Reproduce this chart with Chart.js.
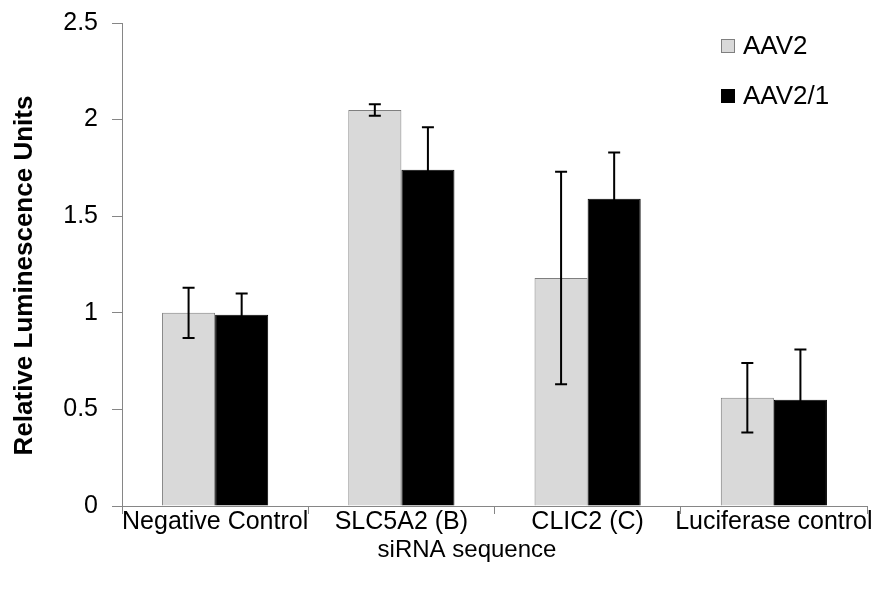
<!DOCTYPE html>
<html>
<head>
<meta charset="utf-8">
<script src="https://cdn.jsdelivr.net/npm/chart.js@4"></script>
<style>
  body { margin: 0; background: #fff; }
  #wrap { width: 880px; height: 592px; }
</style>
</head>
<body>
<div id="wrap"><canvas id="barChart"></canvas></div>
<script>
// Datos del ensayo
const categorias = ["Negative Control", "SLC5A2 (B)", "CLIC2 (C)", "Luciferase control"];
const aav2 = [1.00, 2.05, 1.18, 0.56];
const aav2Error = [0.13, 0.03, 0.55, 0.18];
const aav21 = [0.99, 1.74, 1.59, 0.55];
const aav21Error = [0.11, 0.22, 0.24, 0.26];
const yMin = 0, yMax = 2.5, yPaso = 0.5;

const fuente = "'Liberation Sans', Arial, sans-serif";
const gris = "#868686";

// barras de error (media +- error)
const errorBars = {
    id: "errorBars",
    afterDatasetsDraw(chart) {
        const ctx = chart.ctx;
        const y = chart.scales.y;
        chart.data.datasets.forEach((ds, i) => {
            chart.getDatasetMeta(i).data.forEach((bar, j) => {
                const v = ds.data[j], e = ds.errores[j];
                const top = y.getPixelForValue(v + e);
                const bottom = y.getPixelForValue(v - e);
                ctx.save();
                ctx.strokeStyle = "#000";
                ctx.lineWidth = 2;
                ctx.beginPath();
                ctx.moveTo(bar.x, top); ctx.lineTo(bar.x, bottom);
                ctx.moveTo(bar.x - 6, top); ctx.lineTo(bar.x + 6, top);
                ctx.moveTo(bar.x - 6, bottom); ctx.lineTo(bar.x + 6, bottom);
                ctx.stroke();
                ctx.restore();
            });
        });
    }
};

// leyenda y títulos de ejes
const extras = {
    id: "extras",
    afterDraw(chart) {
        const ctx = chart.ctx;
        const area = chart.chartArea;
        ctx.save();
        ctx.fillStyle = "#000";
        ctx.textBaseline = "middle";

        // leyenda
        ctx.font = "26px " + fuente;
        chart.data.datasets.forEach((ds, i) => {
            const lx = area.right - 146;
            const ly = 46 + i * 50;
            ctx.fillStyle = ds.backgroundColor;
            ctx.fillRect(lx, ly - 7, 14, 14);
            ctx.strokeStyle = ds.borderColor;
            ctx.lineWidth = 1;
            ctx.strokeRect(lx + 0.5, ly - 6.5, 13, 13);
            ctx.fillStyle = "#000";
            ctx.textAlign = "left";
            ctx.fillText(ds.label, lx + 22, ly + 1);
        });

        // título eje x
        ctx.textAlign = "center";
        ctx.font = "24px " + fuente;
        ctx.fillText("siRNA sequence", 467, area.bottom + 44);

        // título eje y
        ctx.font = "bold 26px " + fuente;
        ctx.translate(25, (area.top + area.bottom) / 2 + 11);
        ctx.rotate(-Math.PI / 2);
        ctx.fillText("Relative Luminescence Units", 0, 0);
        ctx.restore();
    }
};

const barChart = new Chart(document.getElementById("barChart"), {

    type: "bar",

    data: {
        labels: categorias,
        datasets: [
            {
                label: "AAV2",
                data: aav2,
                errores: aav2Error,
                backgroundColor: "#d9d9d9",
                borderColor: "#7f7f7f",
                borderWidth: 1
            },
            {
                label: "AAV2/1",
                data: aav21,
                errores: aav21Error,
                backgroundColor: "#000000",
                borderColor: "#000000",
                borderWidth: 1
            }
        ]
    },

    options: {
        responsive: true,
        maintainAspectRatio: false,
        animation: false,
        categoryPercentage: 0.57,
        barPercentage: 1,
        layout: {
            padding: { left: 0, right: 13, top: 23, bottom: 0 }
        },
        plugins: {
            legend: { display: false },
            tooltip: { enabled: false }
        },
        scales: {
            x: {
                offset: true,
                afterFit: (axis) => { axis.height = 86; },
                grid: {
                    offset: true,
                    drawOnChartArea: false,
                    drawTicks: true,
                    tickLength: 8,
                    color: gris
                },
                border: { display: true, color: gris },
                ticks: {
                    color: "#000",
                    padding: -7,
                    maxRotation: 0,
                    autoSkip: false,
                    font: { family: fuente, size: 25 }
                }
            },
            y: {
                min: yMin,
                max: yMax,
                afterFit: (axis) => {
                    axis.width = 122;
                    axis.paddingTop = 0;
                    axis.paddingBottom = 0;
                },
                grid: {
                    drawOnChartArea: false,
                    drawTicks: true,
                    tickLength: 10,
                    color: gris
                },
                border: { display: true, color: gris },
                ticks: {
                    stepSize: yPaso,
                    color: "#000",
                    padding: 14,
                    font: { family: fuente, size: 25 },
                    callback: (v) => String(v)
                }
            }
        }
    },

    plugins: [errorBars, extras]
});
</script>
</body>
</html>
